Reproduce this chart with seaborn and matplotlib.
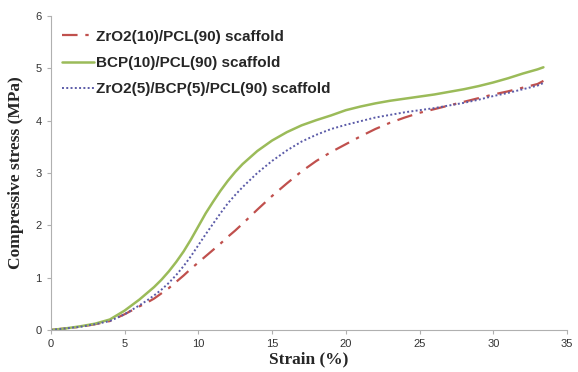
import numpy as np
import pandas as pd
import matplotlib
matplotlib.use("Agg")
import matplotlib.pyplot as plt
import seaborn as sns

# strain (%) sample points
strain = [0, 1, 2, 3, 4, 5, 6, 6.5, 7, 7.5, 8, 8.5, 9, 9.5, 10, 10.5, 11, 11.5, 12, 12.5,
          13, 14, 15, 16, 17, 18, 19, 20, 21, 22, 23, 24, 25, 26, 27, 28, 29, 30,
          31, 32, 33, 33.4]

# compressive stress (MPa)
zro2 = [0, 0.03, 0.06, 0.11, 0.17, 0.3, 0.45, 0.52, 0.6, 0.7, 0.8, 0.92, 1.04, 1.17,
        1.29, 1.41, 1.53, 1.65, 1.78, 1.9, 2.03, 2.3, 2.56, 2.8, 3.03, 3.23, 3.4,
        3.55, 3.7, 3.84, 3.96, 4.06, 4.15, 4.22, 4.29, 4.36, 4.43, 4.5, 4.56, 4.63,
        4.7, 4.76]
bcp = [0, 0.03, 0.07, 0.12, 0.2, 0.37, 0.58, 0.7, 0.82, 0.96, 1.12, 1.3, 1.5, 1.73,
       1.98, 2.23, 2.45, 2.66, 2.85, 3.02, 3.17, 3.42, 3.62, 3.78, 3.91, 4.01, 4.1,
       4.2, 4.27, 4.33, 4.38, 4.42, 4.46, 4.5, 4.55, 4.6, 4.66, 4.73, 4.81, 4.9,
       4.98, 5.02]
mix = [0, 0.03, 0.06, 0.11, 0.17, 0.3, 0.47, 0.56, 0.66, 0.77, 0.9, 1.05, 1.22, 1.41,
       1.62, 1.83, 2.03, 2.23, 2.42, 2.58, 2.73, 3.0, 3.23, 3.43, 3.6, 3.73, 3.84,
       3.92, 3.99, 4.06, 4.11, 4.16, 4.2, 4.24, 4.29, 4.34, 4.4, 4.47, 4.53, 4.6,
       4.67, 4.72]

labels = ["ZrO2(10)/PCL(90) scaffold", "BCP(10)/PCL(90) scaffold",
          "ZrO2(5)/BCP(5)/PCL(90) scaffold"]

sns.set_style("white")
plt.rcParams['font.family'] = ['Liberation Sans', 'DejaVu Sans']

fig = plt.figure(figsize=(5.78, 3.72), dpi=100)
ax = fig.add_axes([0.088, 0.113, 0.893, 0.844])

sns.lineplot(x=strain, y=zro2, ax=ax, color='#C0504D', lw=1.6, label=labels[0])
sns.lineplot(x=strain, y=bcp, ax=ax, color='#9BBB59', lw=1.8, label=labels[1])
sns.lineplot(x=strain, y=mix, ax=ax, color='#5B5BA8', lw=1.4, label=labels[2])

lines = ax.get_lines()
lines[0].set_dashes([7, 3.5, 1.5, 3.5])
lines[2].set_dashes([1, 1.2])

ax.set_xlim(0, 35)
ax.set_ylim(0, 6)
ax.set_xticks(range(0, 36, 5))
ax.set_yticks(range(0, 7))

for s in ['top', 'right']:
    ax.spines[s].set_visible(False)
for s in ['left', 'bottom']:
    ax.spines[s].set_color('#b0b0b0')
    ax.spines[s].set_linewidth(0.8)
ax.tick_params(axis='both', length=3, width=0.8, color='#b0b0b0',
               labelsize=8, labelcolor='#333333', direction='out',
               bottom=True, left=True)

ax.set_xlabel("Strain (%)", family='Liberation Serif', fontweight='bold',
              fontsize=12.5, labelpad=2)
ax.set_ylabel("Compressive stress (MPa)", family='Liberation Serif',
              fontweight='bold', fontsize=12.5, labelpad=8)

leg = ax.legend(loc='upper left', bbox_to_anchor=(-0.005, 1.0), frameon=False,
                prop={'weight': 'bold', 'size': 11}, handlelength=2.1,
                handletextpad=0.15, labelspacing=0.8)

fig.savefig("out.png", dpi=100)
